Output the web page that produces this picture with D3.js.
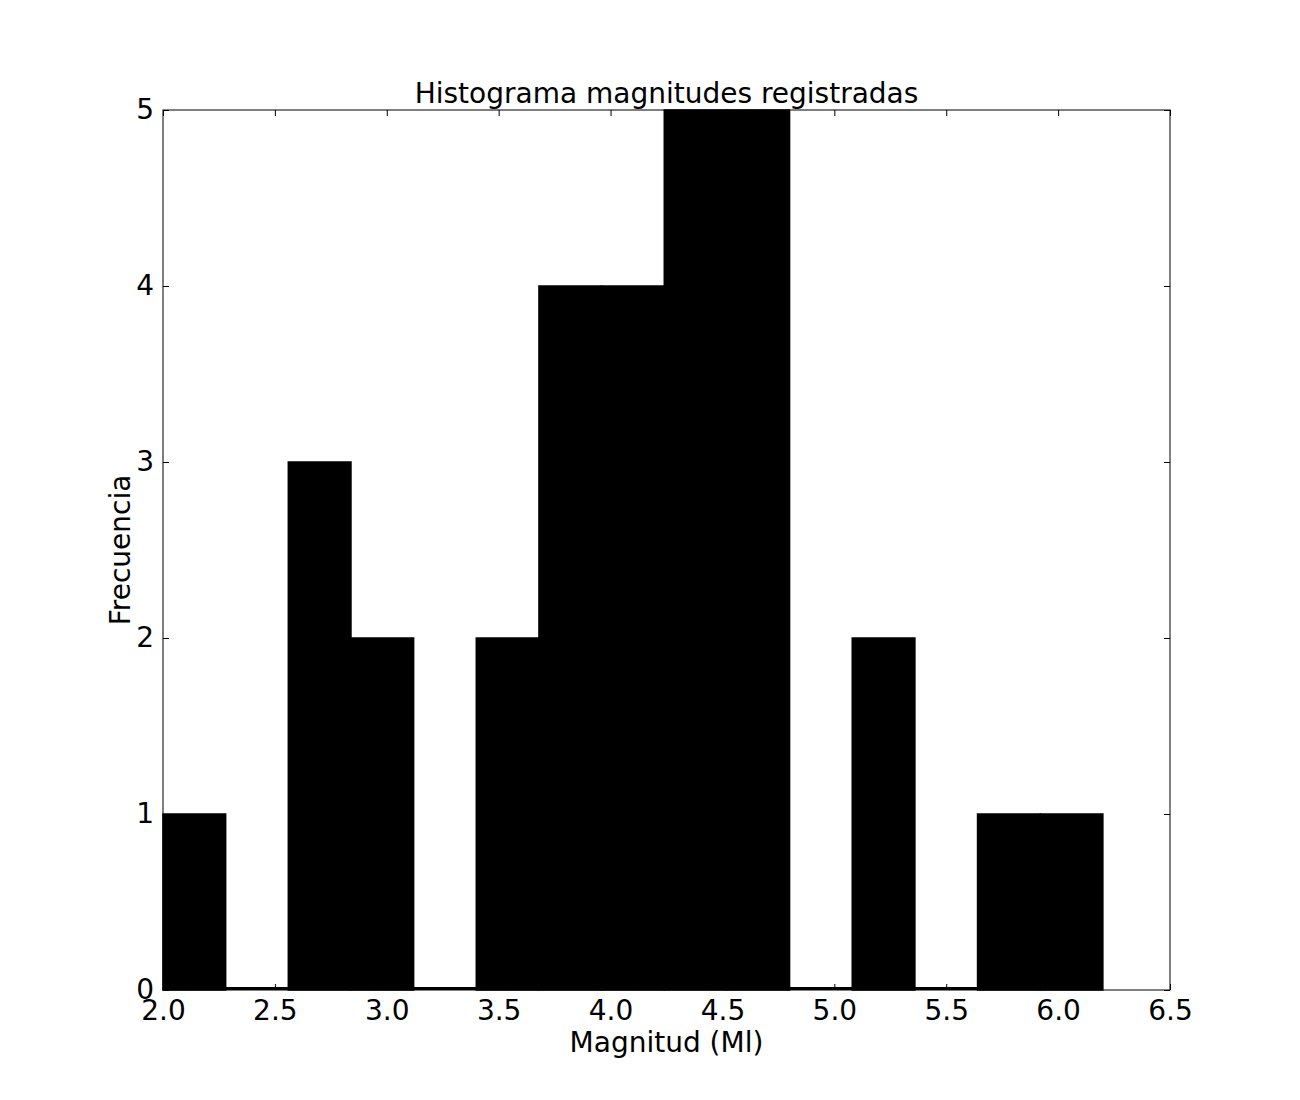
<!DOCTYPE html>
<html><head><meta charset="utf-8">
<script src="https://d3js.org/d3.v7.min.js"></script>
<style>body{margin:0;background:#fff}text{font-family:"DejaVu Sans",sans-serif;fill:#000}</style>
</head><body>
<script>
const binEdges = [2.0,2.28,2.56,2.84,3.12,3.40,3.68,3.96,4.24,4.52,4.80,5.08,5.36,5.64,5.92,6.20];
const counts = [1,0,3,2,0,2,4,4,5,5,0,2,0,1,1];
const xTicks = [2.0,2.5,3.0,3.5,4.0,4.5,5.0,5.5,6.0,6.5];
const yTicks = [0,1,2,3,4,5];
const title = "Histograma magnitudes registradas";
const xLabel = "Magnitud (Ml)";
const yLabel = "Frecuencia";

const W=1300,H=1100, L=163,R=1170,T=110,B=990;
const svg=d3.select("body").append("svg").attr("width",W).attr("height",H);
const x=d3.scaleLinear().domain([2.0,6.5]).range([L,R]);
const y=d3.scaleLinear().domain([0,5]).range([B,T]);
const bins=counts.map((c,i)=>({x0:binEdges[i],x1:binEdges[i+1],c}));
svg.append("g").selectAll("rect").data(bins.filter(d=>d.c>0)).join("rect")
  .attr("x",d=>x(d.x0)).attr("width",d=>x(d.x1)-x(d.x0))
  .attr("y",d=>y(d.c)).attr("height",d=>y(0)-y(d.c))
  .attr("fill","#000").attr("stroke","#000").attr("stroke-width",1.5);
svg.append("g").selectAll("line").data(bins.filter(d=>d.c===0)).join("line")
  .attr("x1",d=>x(d.x0)).attr("x2",d=>x(d.x1))
  .attr("y1",y(0)-1.5).attr("y2",y(0)-1.5)
  .attr("stroke","#000").attr("stroke-width",3);
const fs=28;
const ax=svg.append("g");
ax.append("g").attr("transform",`translate(0,${B})`).call(d3.axisBottom(x).tickValues(xTicks).tickFormat(d3.format(".1f")).tickSizeInner(-6).tickSizeOuter(0).tickPadding(10))
  .call(g=>{g.select(".domain").remove();g.selectAll("text").attr("font-size",fs).attr("font-family","DejaVu Sans");});
ax.append("g").attr("transform",`translate(0,${T})`).call(d3.axisTop(x).tickValues(xTicks).tickFormat("").tickSizeInner(-6).tickSizeOuter(0))
  .call(g=>g.select(".domain").remove());
ax.append("g").attr("transform",`translate(${L},0)`).call(d3.axisLeft(y).tickValues(yTicks).tickFormat(d3.format("d")).tickSizeInner(-6).tickSizeOuter(0).tickPadding(9))
  .call(g=>{g.select(".domain").remove();g.selectAll("text").attr("font-size",fs).attr("font-family","DejaVu Sans");});
ax.append("g").attr("transform",`translate(${R},0)`).call(d3.axisRight(y).tickValues(yTicks).tickFormat("").tickSizeInner(-6).tickSizeOuter(0))
  .call(g=>g.select(".domain").remove());
svg.append("rect").attr("x",L).attr("y",T).attr("width",R-L).attr("height",B-T).attr("fill","none").attr("stroke","#000").attr("stroke-width",1);
svg.append("text").attr("x",(L+R)/2).attr("y",103).attr("text-anchor","middle").attr("font-size",fs).text(title);
svg.append("text").attr("x",(L+R)/2).attr("y",1052).attr("text-anchor","middle").attr("font-size",fs).text(xLabel);
svg.append("text").attr("transform",`translate(130,${(T+B)/2}) rotate(-90)`).attr("text-anchor","middle").attr("font-size",fs).text(yLabel);
</script>
</body></html>
